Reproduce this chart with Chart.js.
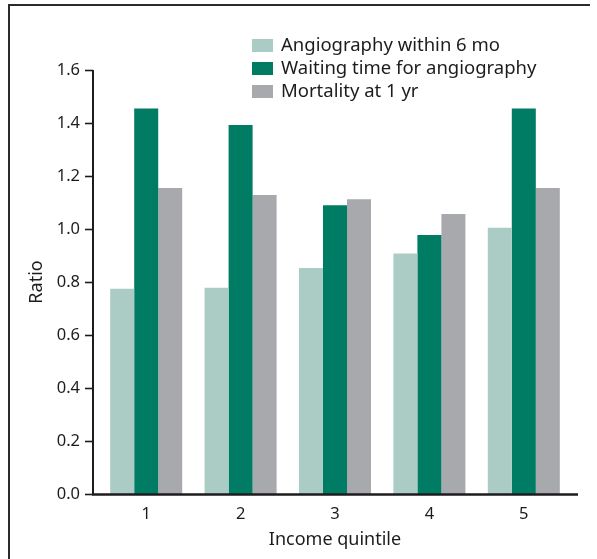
<!DOCTYPE html>
<html>
<head>
<meta charset="utf-8">
<script src="https://cdn.jsdelivr.net/npm/chart.js@4/dist/chart.umd.min.js"></script>
<style>
html,body{margin:0;padding:0;background:#fff;}
#wrap{position:relative;width:597px;height:559px;}
</style>
</head>
<body>
<div id="wrap"><canvas id="c" width="597" height="559"></canvas></div>
<script>
// ---- data ----
const categories = ['1', '2', '3', '4', '5'];
const seriesNames = ['Angiography within 6 mo', 'Waiting time for angiography', 'Mortality at 1 yr'];
const angiography6mo = [0.775, 0.778, 0.853, 0.908, 1.005];
const waitingTime = [1.455, 1.392, 1.090, 0.977, 1.455];
const mortality1yr = [1.155, 1.128, 1.112, 1.057, 1.155];
const yTickValues = [0.0, 0.2, 0.4, 0.6, 0.8, 1.0, 1.2, 1.4, 1.6];
const xTitle = 'Income quintile';
const yTitle = 'Ratio';

const colors = ['#abcbc5', '#007b64', '#a8a9ad'];
const ink = '#1e1b1c';
const FONT = "'Noto Sans', 'DejaVu Sans', sans-serif";

const decor = {
  id: 'decor',
  afterDraw(chart) {
    const ctx = chart.ctx;
    const ca = chart.chartArea;
    const ys = chart.scales.y;
    const y0 = ys.getPixelForValue(0);
    const yTop = ys.getPixelForValue(yTickValues[yTickValues.length - 1]);
    const axX = ca.left - 6;
    ctx.save();
    // frame
    ctx.strokeStyle = '#2b2b2b';
    ctx.lineWidth = 2;
    ctx.beginPath();
    ctx.moveTo(9, 559);
    ctx.lineTo(9, 5);
    ctx.lineTo(590, 5);
    ctx.stroke();
    // y axis line
    ctx.strokeStyle = ink;
    ctx.lineWidth = 2;
    ctx.beginPath();
    ctx.moveTo(axX, yTop);
    ctx.lineTo(axX, y0 + 1);
    ctx.stroke();
    // y ticks
    ctx.lineWidth = 1.6;
    yTickValues.forEach(v => {
      const py = Math.round(ys.getPixelForValue(v)) + 0.5;
      ctx.beginPath();
      ctx.moveTo(axX - 8, py);
      ctx.lineTo(axX, py);
      ctx.stroke();
    });
    // x axis line
    ctx.lineWidth = 2.5;
    ctx.beginPath();
    ctx.moveTo(axX - 1, y0 + 0.5);
    ctx.lineTo(ca.right + 7, y0 + 0.5);
    ctx.stroke();
    // legend
    ctx.font = '18.5px ' + FONT;
    ctx.textBaseline = 'middle';
    ctx.textAlign = 'left';
    chart.data.datasets.forEach((ds, i) => {
      const by = 39 + i * 23;
      ctx.fillStyle = ds.backgroundColor;
      ctx.fillRect(252, by, 21, 13);
      ctx.fillStyle = ink;
      ctx.fillText(ds.label, 281, by + 7);
    });
    ctx.restore();
  }
};

new Chart(document.getElementById('c'), {
  type: 'bar',
  data: {
    labels: categories,
    datasets: [
      { label: seriesNames[0], data: angiography6mo, backgroundColor: colors[0] },
      { label: seriesNames[1], data: waitingTime, backgroundColor: colors[1] },
      { label: seriesNames[2], data: mortality1yr, backgroundColor: colors[2] }
    ]
  },
  options: {
    responsive: false,
    devicePixelRatio: 1,
    animation: false,
    layout: { padding: { left: 0, right: 26, top: 70, bottom: 0 } },
    datasets: { bar: { categoryPercentage: 0.763, barPercentage: 1.0, borderWidth: 0 } },
    plugins: { legend: { display: false }, tooltip: { enabled: false } },
    scales: {
      x: {
        offset: true,
        grid: { display: false, drawTicks: false, tickLength: 0 },
        border: { display: false },
        ticks: { color: ink, font: { family: FONT, size: 16.5 }, padding: 10, maxRotation: 0 },
        title: { display: true, text: xTitle, color: ink, font: { family: FONT, size: 18 }, padding: { top: 0, bottom: 8 } },
        afterFit(scale) { scale.height = 65; }
      },
      y: {
        min: 0,
        max: 1.6,
        grid: { display: false, drawTicks: false, tickLength: 0 },
        border: { display: false },
        afterBuildTicks(scale) { scale.ticks = yTickValues.map(v => ({ value: v })); },
        ticks: { color: ink, font: { family: FONT, size: 16.5 }, padding: 19, callback: v => Number(v).toFixed(1) },
        title: { display: true, text: yTitle, color: ink, font: { family: FONT, size: 18 }, padding: { top: 26, bottom: 0 } },
        afterFit(scale) { scale.width = 99; }
      }
    }
  },
  plugins: [decor]
});
</script>
</body>
</html>
